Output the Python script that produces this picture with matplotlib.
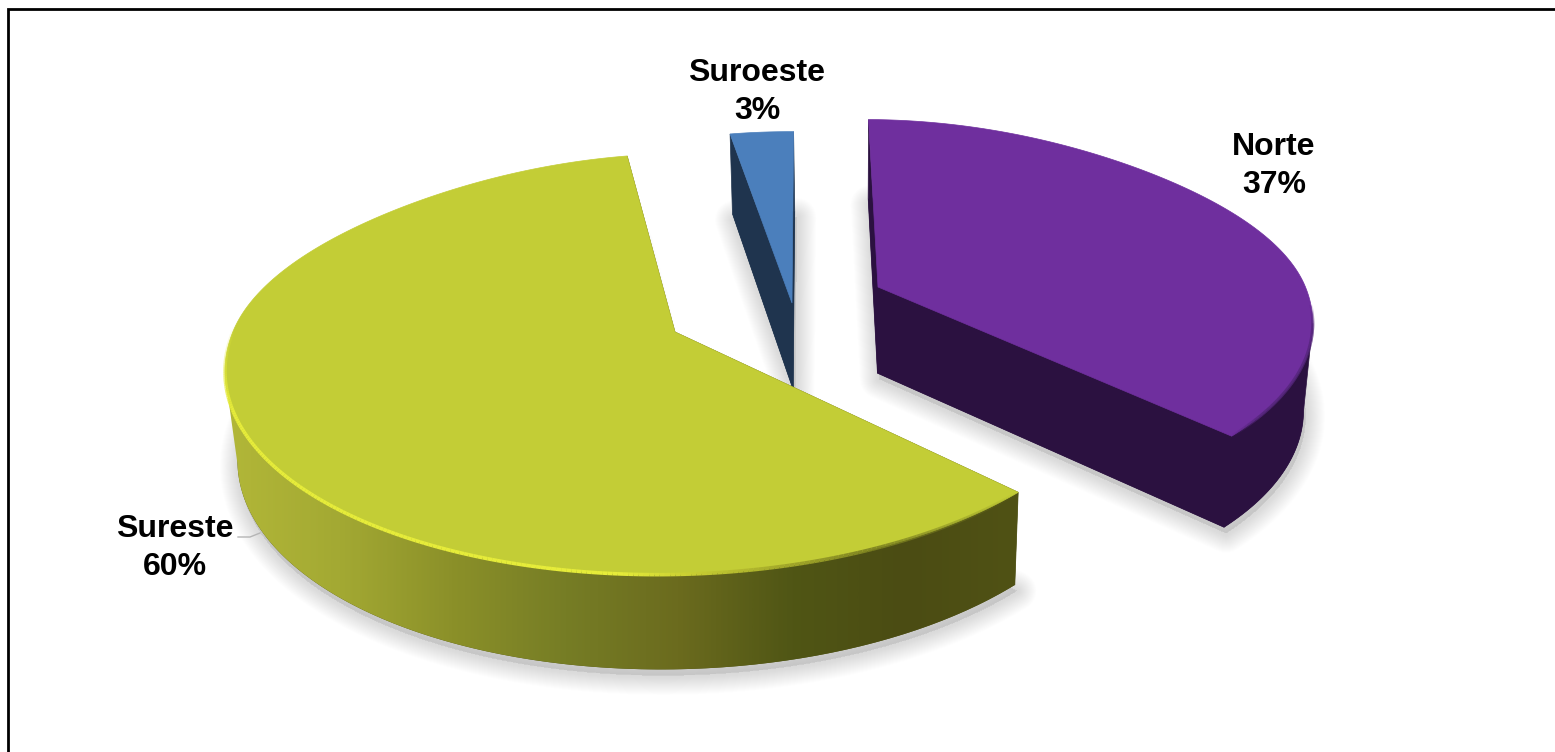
#!/usr/bin/env python3
"""Exploded 3D style pie of the regional shares, saved as out.png."""

import matplotlib

matplotlib.use("Agg")

import matplotlib.pyplot as plt
import numpy as np
from matplotlib.collections import LineCollection
from matplotlib.colors import LinearSegmentedColormap, to_rgb
from matplotlib.patches import PathPatch, Polygon
from matplotlib.path import Path


REGIONS = ["Norte", "Sureste", "Suroeste"]
SHARES = [37.1, 60.2, 2.7]

TOP_COLORS = ["#6f2f9e", "#c3cd36", "#4b7fbc"]
SIDE_COLORS = ["#2b1140", "#505215", "#1f344e"]
WALL_STOPS = ["#b2b738", "#a3a933", "#8b9029", "#767d25", "#6b6b1e", "#505615", "#4b4c13", "#505215"]

# screen position of each slice's tip, the label centres and the projection
APEX = [(878, 287), (675, 332), (792, 303)]
LABEL_XY = [(1274, 166), (175, 548), (757, 92)]
WIDTH, HEIGHT = 1555, 752
START_ANGLE = 0.6
CENTER_X, CENTER_Y = 774, 310
RADIUS_X, RADIUS_Y = 435, 199
PERSPECTIVE = 0.15
VANISH_X = 850
TAPER = 0.02
FAR_FLATTEN = 0.03


def project(x, y):
    w = 1 + PERSPECTIVE * y
    return CENTER_X + RADIUS_X * x / w, CENTER_Y - RADIUS_Y * y / w


def unproject(sx, sy):
    v = (CENTER_Y - sy) / RADIUS_Y
    y = v / (1 - PERSPECTIVE * v)
    x = (sx - CENTER_X) / RADIUS_X * (1 + PERSPECTIVE * y)
    return x, y


def drop(sx, sy, y):
    # screen point of the lower rim under a point of the top face
    return sx + (VANISH_X - sx) * TAPER, sy + 87 - 7 * y


def rim_points(apex, start, stop):
    ax, ay = unproject(*apex)
    theta = np.radians(np.linspace(start, stop, 240))
    # the source rim is not a true circle: a bit flatter on the far corners
    far = np.cos(theta) > 0
    radius = np.ones_like(theta)
    radius[far] -= FAR_FLATTEN * np.sin(2 * theta[far]) ** 2
    x = ax + radius * np.sin(theta)
    y = ay + radius * np.cos(theta)
    sx, sy = project(x, y)
    return sx, sy, y


def draw_shadow(ax, outline):
    for width in np.arange(28, 0, -1.4):
        ax.add_patch(Polygon(
            outline + np.array([2, 6]),
            closed=True,
            facecolor="#888888",
            edgecolor="#888888",
            linewidth=width,
            alpha=0.011,
            joinstyle="round",
            zorder=1,
        ))


def draw_slice(ax, index, start, stop):
    apex = APEX[index]
    _, apex_y = unproject(*apex)
    sx, sy, y = rim_points(apex, start, stop)
    bx, by = drop(sx, sy, y)
    top = np.column_stack([np.r_[apex[0], sx], np.r_[apex[1], sy]])
    tip_bottom = drop(apex[0], apex[1], apex_y)
    bottom = np.column_stack([np.r_[tip_bottom[0], bx], np.r_[tip_bottom[1], by]])
    base = 2 + index * 0.1 if index != 1 else 3

    draw_shadow(ax, bottom)

    # bottom plate and both cut faces sit under the top
    ax.add_patch(Polygon(bottom, closed=True, color=SIDE_COLORS[index], lw=0, zorder=base))
    for k in (0, -1):
        face = [apex, (sx[k], sy[k]), (bx[k], by[k]), tip_bottom]
        ax.add_patch(Polygon(face, closed=True, color=SIDE_COLORS[index], lw=0.5, zorder=base))

    # only the near part of the rim has a visible outer wall
    near = np.gradient(sx) < 0
    if near.any():
        wall = np.column_stack([
            np.r_[sx[near], bx[near][::-1]],
            np.r_[sy[near], by[near][::-1]],
        ])
        if index == 1:
            ramp = LinearSegmentedColormap.from_list("wall", WALL_STOPS)
            image = ax.imshow(
                np.linspace(0, 1, 400)[None, :],
                cmap=ramp,
                extent=(sx.min(), sx[0], 752, 300),
                aspect="auto",
                zorder=base + 0.1,
            )
            image.set_clip_path(PathPatch(Path(wall), transform=ax.transData))
        else:
            ax.add_patch(Polygon(wall, closed=True, color=SIDE_COLORS[index], lw=0.5, zorder=base))

    ax.add_patch(Polygon(top, closed=True, color=TOP_COLORS[index], lw=0.5, zorder=base + 0.2))


def draw_rim_line(ax, index, start, stop, left_color, right_color, fade_from, fade_span, width, zorder):
    # rim bevel: colour shifts along x, both ends melt into the top face
    sx, sy, _ = rim_points(APEX[index], start, stop)
    points = np.column_stack([sx, sy])
    segments = np.stack([points[:-1], points[1:]], axis=1)
    fade = np.clip((sx[:-1] - fade_from) / fade_span, 0, 1)[:, None]
    rgb = np.array(to_rgb(left_color)) * (1 - fade) + np.array(to_rgb(right_color)) * fade
    ramp = np.minimum(np.arange(len(sx) - 1), np.arange(len(sx) - 1)[::-1]) / 40
    alpha = np.clip(ramp, 0, 1)[:, None]
    ax.add_collection(LineCollection(
        segments, colors=np.hstack([rgb, alpha]), linewidths=width, zorder=zorder,
    ))


def main():
    plt.rcParams["font.family"] = ["Liberation Sans", "DejaVu Sans"]
    fig = plt.figure(figsize=(WIDTH / 100, HEIGHT / 100), dpi=100)
    ax = fig.add_axes([0, 0, 1, 1])

    shares = np.array(SHARES, dtype=float)
    edges = START_ANGLE + np.r_[0, np.cumsum(shares / shares.sum() * 360)]

    for index in [0, 2, 1]:
        draw_slice(ax, index, edges[index], edges[index + 1])

    draw_rim_line(ax, 1, edges[1], 272, "#e6ec3a", "#7c8120", 620, 260, 2.6, 3.4)
    draw_rim_line(ax, 0, 95, edges[1], "#54267a", "#54267a", 0, 1, 2.2, 2.3)

    ax.plot([8, 8, WIDTH], [HEIGHT, 9, 9], color="black", linewidth=2, zorder=5,
            solid_joinstyle="miter")
    ax.plot([238, 250, 260], [537, 537, 533], color="#b5b5b5", linewidth=1, zorder=5)

    for name, share, (x, y) in zip(REGIONS, SHARES, LABEL_XY):
        ax.text(x, y, f"{name}\n{share:.0f}%", ha="center", va="center", fontsize=23,
                fontweight="bold", color="black", linespacing=1.33, zorder=6)

    ax.set_xlim(0, WIDTH)
    ax.set_ylim(HEIGHT, 0)
    ax.axis("off")
    fig.savefig("out.png", dpi=100, facecolor="white")
    plt.close(fig)


if __name__ == "__main__":
    main()
